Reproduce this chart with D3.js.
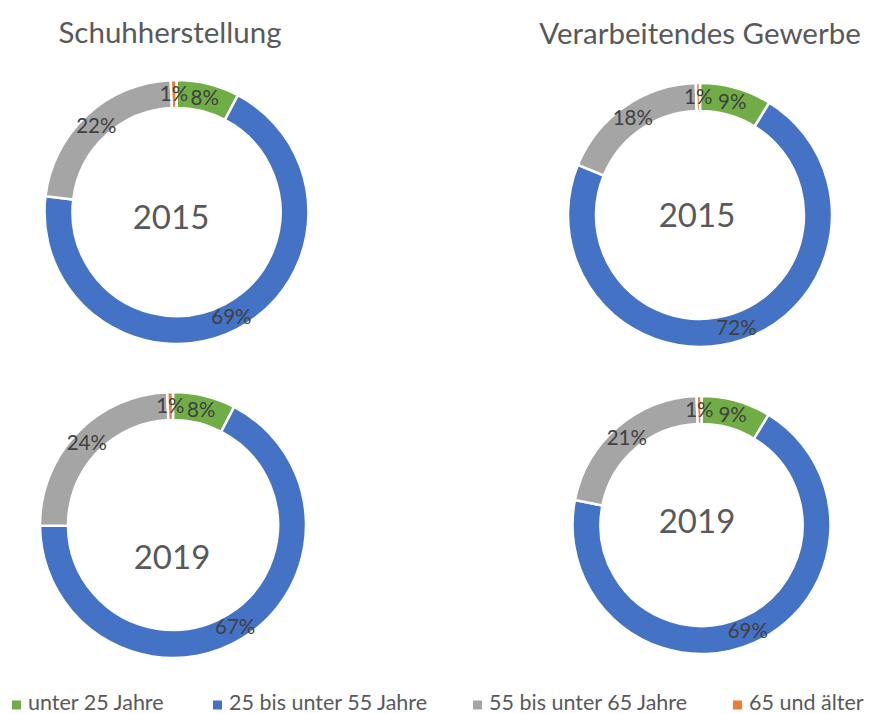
<!DOCTYPE html>
<html><head><meta charset="utf-8">
<script src="https://cdn.jsdelivr.net/npm/d3@7"></script>
<style>body{margin:0;background:#fff;}svg{display:block;font-family:Lato,"Open Sans",sans-serif;}</style>
</head><body>
<svg id="c" width="869" height="714"></svg>
<script>
const categories = ["unter 25 Jahre", "25 bis unter 55 Jahre", "55 bis unter 65 Jahre", "65 und älter"];
const colors = ["#70AD47", "#4472C4", "#A5A5A5", "#ED7D31"];
const titles = ["Schuhherstellung", "Verarbeitendes Gewerbe"];
const years = ["2015", "2019"];
const schuh2015 = [7.7, 69.2, 22.4, 0.7];
const schuh2019 = [7.6, 67.3, 24.4, 0.7];
const gewerbe2015 = [8.8, 72.4, 18.3, 0.5];
const gewerbe2019 = [8.7, 69.4, 21.3, 0.6];

const svg = d3.select("#c");
const panels = [
  {vals: schuh2015, year: years[0], cx: 176.5, cy: 212, r: 132, tx: 171, ty: 217},
  {vals: gewerbe2015, year: years[0], cx: 700, cy: 215, r: 132, tx: 697, ty: 215},
  {vals: schuh2019, year: years[1], cx: 173, cy: 525, r: 133, tx: 172, ty: 557},
  {vals: gewerbe2019, year: years[1], cx: 701.5, cy: 525, r: 129, tx: 697, ty: 521}
];
const color = d3.scaleOrdinal().domain(categories).range(colors);
const pie = d3.pie().sort(null).value(d => d.v);

panels.forEach(p => {
  const g = svg.append("g").attr("transform", `translate(${p.cx},${p.cy})`);
  const inner = p.r - 28;
  const arc = d3.arc().innerRadius(inner).outerRadius(p.r);
  const lab = d3.arc().innerRadius((inner + p.r) / 2).outerRadius((inner + p.r) / 2);
  const data = pie(p.vals.map((v, i) => ({v, c: categories[i]})));
  g.selectAll("path").data(data).join("path")
    .attr("d", arc).attr("fill", d => color(d.data.c))
    .attr("stroke", "#fff").attr("stroke-width", 2.5);
  g.selectAll("text.l").data(data).join("text").attr("class", "l")
    .attr("transform", d => `translate(${lab.centroid(d)})`)
    .attr("text-anchor", "middle").attr("dy", "0.36em")
    .attr("font-size", 20.5).attr("fill", "#404040")
    .text(d => Math.round(d.data.v) + "%");
  svg.append("text").attr("x", p.tx).attr("y", p.ty).attr("dy", "0.36em")
    .attr("text-anchor", "middle").attr("font-size", 33).attr("fill", "#595959")
    .text(p.year);
});

svg.append("text").attr("x", 170).attr("y", 32).attr("dy", "0.36em").attr("text-anchor", "middle")
  .attr("font-size", 29.5).attr("fill", "#595959").text(titles[0]);
svg.append("text").attr("x", 700).attr("y", 33).attr("dy", "0.36em").attr("text-anchor", "middle")
  .attr("font-size", 29.5).attr("fill", "#595959").text(titles[1]);

const legX = [12, 213, 473, 733];
const leg = svg.append("g").selectAll("g").data(categories).join("g")
  .attr("transform", (d, i) => `translate(${legX[i]},705)`);
leg.append("rect").attr("x", 0).attr("y", -4.5).attr("width", 9).attr("height", 9).attr("fill", d => color(d));
leg.append("text").attr("x", 16).attr("y", -3).attr("dy", "0.36em").attr("font-size", 21.5)
  .attr("fill", "#595959").text(d => d);
</script>
</body></html>
